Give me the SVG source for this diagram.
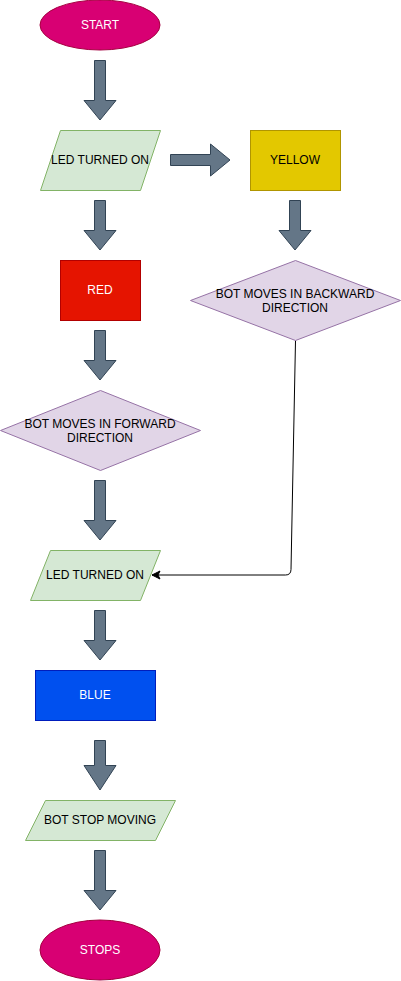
<svg xmlns="http://www.w3.org/2000/svg" width="401" height="981" viewBox="0 0 401 981">
<style>
text{font-family:"Liberation Sans",Arial,sans-serif;font-size:12px;text-anchor:middle;dominant-baseline:central}
.w{fill:#ffffff}
.k{fill:#000000}
.arr{fill:#647687;stroke:#314354;stroke-width:1}
.io{fill:#d5e8d4;stroke:#82b366;stroke-width:1}
.dec{fill:#e1d5e7;stroke:#9673a6;stroke-width:1}
.term{fill:#d80073;stroke:#a50040;stroke-width:1}
</style>
<defs>
<marker id="ah" markerWidth="10" markerHeight="10" refX="9" refY="5" orient="auto" markerUnits="userSpaceOnUse">
<path d="M1,1 L9,5 L1,9 L3,5 Z" fill="#000" stroke="#000" stroke-width="1"/>
</marker>
</defs>
<g id="connectors">
<path class="arr" d="M94.5,60.5 H105.5 V100.5 H116 L100,120 L84,100.5 H94.5 Z"/>
<path class="arr" d="M170.5,154.5 V165.5 H210.5 V176 L230,160 L210.5,144 V154.5 Z"/>
<path class="arr" d="M289.5,200.5 H300.5 V230.5 H311 L295,250 L279,230.5 H289.5 Z"/>
<path class="arr" d="M94.5,200.5 H105.5 V230.5 H116 L100,250 L84,230.5 H94.5 Z"/>
<path class="arr" d="M94.5,330.5 H105.5 V360.5 H116 L100,380 L84,360.5 H94.5 Z"/>
<path class="arr" d="M94.5,480.5 H105.5 V520.5 H116 L100,540 L84,520.5 H94.5 Z"/>
<path class="arr" d="M94.5,610.5 H105.5 V640.5 H116 L100,660 L84,640.5 H94.5 Z"/>
<path class="arr" d="M94.5,740.5 H105.5 V765.5 H116 L100,790 L84,765.5 H94.5 Z"/>
<path class="arr" d="M94.5,850.5 H105.5 V890.5 H116 L100,910 L84,890.5 H94.5 Z"/>
<path d="M295.5,340.5 L291,569.5 Q290.9,575 285.5,575 L152,575" fill="none" stroke="#000" stroke-width="1" marker-end="url(#ah)"/>
</g>
<g id="start">
<ellipse class="term" cx="100" cy="25" rx="60" ry="25"/>
<text class="w" x="100" y="25">START</text>
</g>
<g id="led1">
<polygon class="io" points="60.5,130.5 160.5,130.5 140.5,190.5 40.5,190.5"/>
<text class="k" x="100" y="160">LED TURNED ON</text>
</g>
<g id="yellow">
<rect x="250.5" y="130.5" width="90" height="60" fill="#e3c800" stroke="#b09500"/>
<text class="k" x="295" y="160">YELLOW</text>
</g>
<g id="red">
<rect x="60.5" y="260.5" width="80" height="60" fill="#e51400" stroke="#b20000"/>
<text class="w" x="100" y="290">RED</text>
</g>
<g id="backward">
<polygon class="dec" points="295.5,260.5 400.5,300.5 295.5,340.5 190.5,300.5"/>
<text class="k" x="295" y="294">BOT MOVES IN BACKWARD</text>
<text class="k" x="295" y="308">DIRECTION</text>
</g>
<g id="forward">
<polygon class="dec" points="100.5,390.5 200.5,430.5 100.5,470.5 0.5,430.5"/>
<text class="k" x="100" y="424">BOT MOVES IN FORWARD</text>
<text class="k" x="100" y="438">DIRECTION</text>
</g>
<g id="led2">
<polygon class="io" points="50.5,550.5 160.5,550.5 140.5,600.5 30.5,600.5"/>
<text class="k" x="95" y="575">LED TURNED ON</text>
</g>
<g id="blue">
<rect x="35.5" y="670.5" width="120" height="50" fill="#0050ef" stroke="#001dbc"/>
<text class="w" x="95" y="695">BLUE</text>
</g>
<g id="stopmoving">
<polygon class="io" points="45.5,800.5 175.5,800.5 155.5,840.5 25.5,840.5"/>
<text class="k" x="100" y="820">BOT STOP MOVING</text>
</g>
<g id="stops">
<ellipse class="term" cx="100" cy="950" rx="60" ry="30"/>
<text class="w" x="100" y="950">STOPS</text>
</g>
</svg>
